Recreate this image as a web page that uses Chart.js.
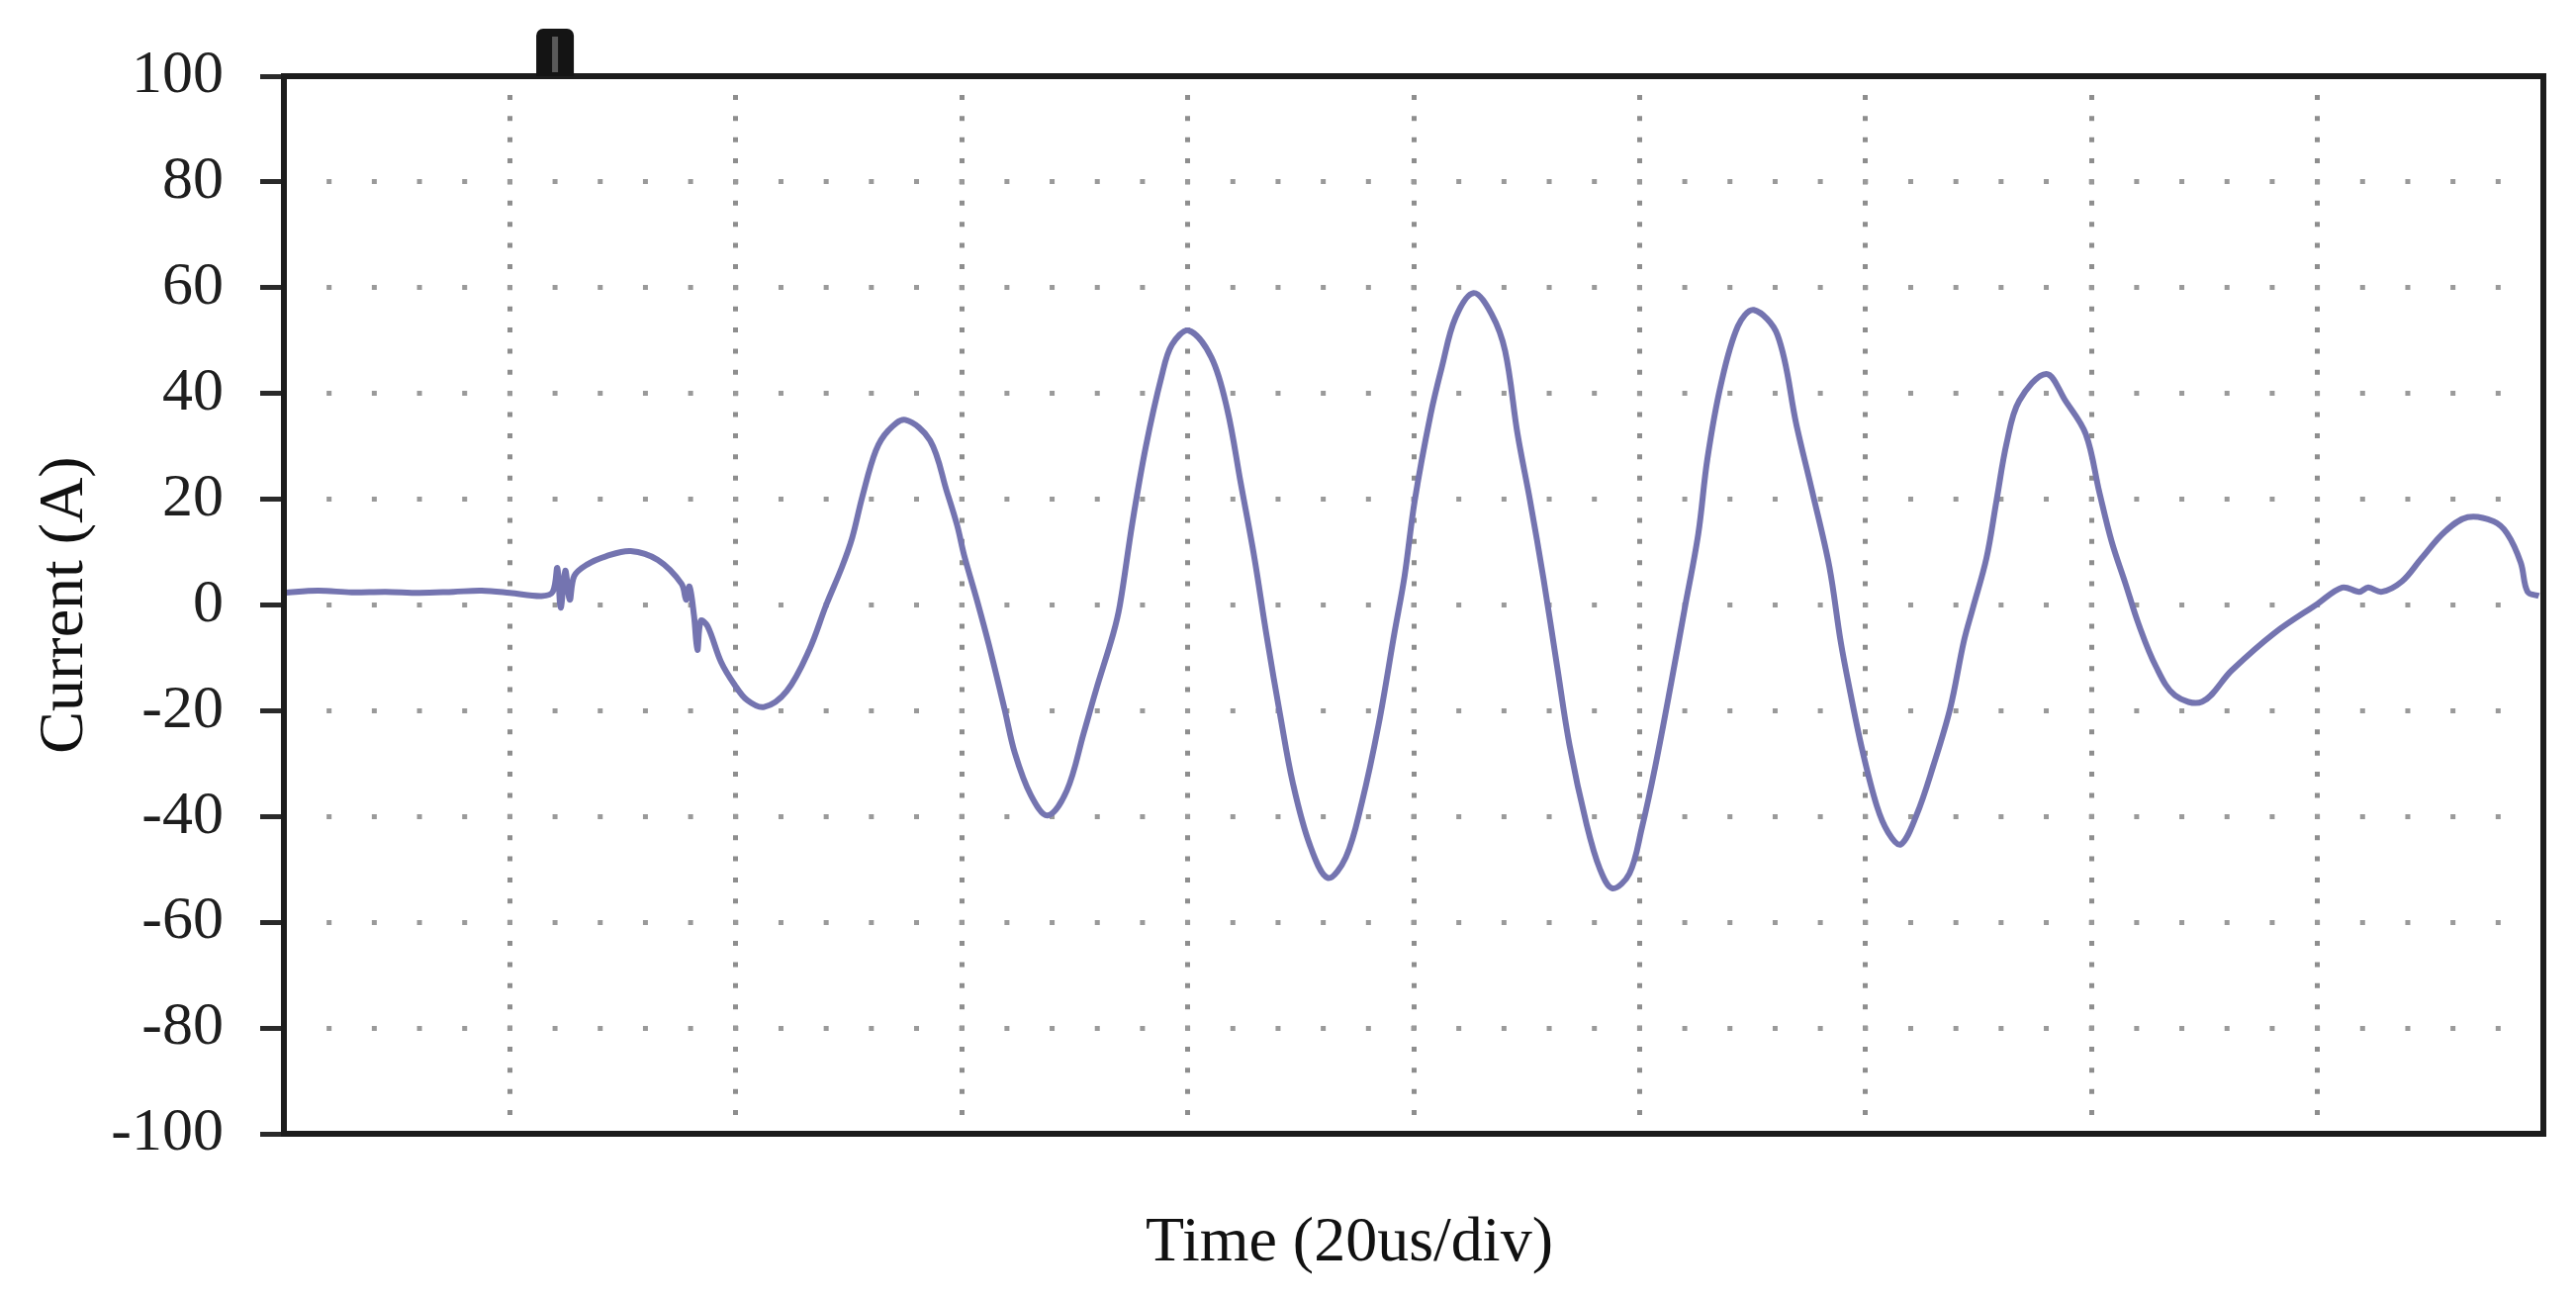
<!DOCTYPE html>
<html>
<head>
<meta charset="utf-8">
<script src="https://cdn.jsdelivr.net/npm/chart.js@4/dist/chart.umd.min.js"></script>
<style>
  html, body { margin: 0; padding: 0; background: #ffffff; }
  #wrap { width: 2604px; height: 1314px; }
</style>
</head>
<body>
<div id="wrap"><canvas id="c" width="2604" height="1314"></canvas></div>
<script>
// ---- data (time in microseconds, current in amperes) ----
const timeUs = [
  0, 3, 6, 9, 12, 15, 17.5, 20, 22.8, 23.8, 24.2, 24.5, 24.9, 25.3, 25.7, 26.8, 28.5, 30.7,
  33.1, 35.2, 35.6, 35.9, 36.3, 36.6, 36.9, 37.5, 38.7, 39.9, 41, 42.5, 44.5, 46.5, 48,
  49.4, 50.3, 51.2, 52.4, 53.5, 55, 57.2, 58.7, 59.6, 60.2, 61.4, 62.4, 63.8, 64.7, 66.1,
  67.6, 69.3, 70.8, 71.9, 73.4, 74, 75.1, 76.3, 77.7, 78.6, 80.1, 82.1, 83.5, 84.7, 85.9,
  87, 88.2, 89.3, 90.8, 92.4, 94, 95.4, 96.9, 98.3, 99.2, 100.1, 101.5, 102.5, 103.7, 105.3,
  106.9, 108.1, 109.2, 110.3, 111.5, 112.7, 113.8, 115.3, 116.5, 117.6, 119.1, 120.2, 121.4,
  122.8, 124, 125.2, 126, 127.2, 128.7, 130.1, 132.2, 133.9, 135.3, 136.8, 137.8, 138.6,
  139.7, 141, 142, 143.1, 144.5, 146, 147.5, 148.7, 149.5, 150.7, 151.6, 152.5, 153.6, 156,
  157.7, 159.5, 160.7, 161.8, 163, 164.2, 165.7, 167.4, 169.8, 172.4, 176.2, 180, 182.2,
  183.7, 184.5, 185.7, 187.5, 189.2, 191.3, 193.3, 195.6, 196.8, 198, 198.6, 199.6
];
const currentA = [
  2.3, 2.7, 2.4, 2.5, 2.3, 2.5, 2.7, 2.3, 1.7, 2.5, 7.0, -0.5, 6.5, 1.0, 5.5, 7.6, 9.2, 10.2,
  8.5, 4.0, 1.0, 3.5, -2.0, -8.5, -3.0, -4.0, -10.8, -15.1, -18, -19.3, -16.3, -8.5, 0,
  7.2, 12.7, 20.5, 29.2, 33, 35, 31.1, 21.3, 15, 9.5, 0.5, -7.5, -19.8, -28, -35.9,
  -39.8, -35.1, -24.2, -16, -5.5, 0, 15.5, 30, 43.3, 49.2, 51.9, 46.8, 37, 23, 9,
  -6, -21, -33.6, -45.3, -51.6, -47.7, -37.5, -22.6, -5.3, 5.5, 19.8, 36, 45, 54.3, 59,
  55, 48, 32.3, 19.8, 4.9, -11.6, -26.5, -41.4, -50, -53.6, -50.8, -42.2, -30.4,
  -14.7, -0.6, 13.5, 27.6, 41.7, 52.7, 55.8, 51.1, 33.9, 21.3, 7.2, -6.9, -16,
  -27.3, -38, -43, -45.3, -39.8, -30.4, -19.5, -6.9, -0.6, 8.8, 19.8, 30.7, 38.6, 43.7,
  38.6, 32.3, 21.3, 11.9, 4.1, -3.8, -11.6, -17.1, -18.3, -12.4, -5.3, 0.2, 3.3,
  2.5, 3.3, 2.5, 4.5, 8.8, 13.9, 16.6, 15.8, 13.5, 8, 2.5, 1.7
];
const yTickValues = [100, 80, 60, 40, 20, 0, -20, -40, -60, -80, -100];
const xRange = [0, 200];        // 10 divisions x 20 us
const xStep = 20;
const triggerTimeUs = 24;
const xAxisTitle = 'Time (20us/div)';
const yAxisTitle = 'Current (A)';

const points = timeUs.map((t, i) => ({ x: t, y: currentA[i] }));

const SERIF = '"Liberation Serif", "Times New Roman", serif';

const framePlugin = {
  id: 'framePlugin',
  afterDraw(chart) {
    const { ctx, chartArea: a, scales } = chart;
    ctx.save();
    // plot frame
    ctx.strokeStyle = '#1c1c1c';
    ctx.lineWidth = 6;
    ctx.strokeRect(a.left, a.top, a.right - a.left, a.bottom - a.top);
    // trigger marker
    const tx = scales.x.getPixelForValue(triggerTimeUs);
    const w = 38, h = 48;
    ctx.fillStyle = '#141414';
    ctx.beginPath();
    if (ctx.roundRect) {
      ctx.roundRect(tx - w / 2, a.top - h, w, h, [7, 7, 0, 0]);
    } else {
      ctx.rect(tx - w / 2, a.top - h, w, h);
    }
    ctx.fill();
    ctx.fillStyle = '#5a5a5a';
    ctx.fillRect(tx - 3, a.top - h + 8, 6, h - 12);
    // x axis title (placed as in the original, slightly left of centre)
    ctx.fillStyle = '#111111';
    ctx.font = '64px ' + SERIF;
    ctx.textAlign = 'center';
    ctx.textBaseline = 'middle';
    ctx.fillText(xAxisTitle, 1364, 1257);
    ctx.restore();
  }
};

new Chart(document.getElementById('c'), {
  type: 'line',
  data: {
    datasets: [{
      label: 'Current',
      data: points,
      borderColor: '#7474b0',
      borderWidth: 6,
      pointRadius: 0,
      fill: false,
      tension: 0.35
    }]
  },
  options: {
    responsive: false,
    animation: false,
    devicePixelRatio: 1,
    layout: { padding: { top: 77, right: 33, left: 0, bottom: 0 } },
    plugins: { legend: { display: false }, tooltip: { enabled: false } },
    scales: {
      x: {
        type: 'linear',
        min: xRange[0],
        max: xRange[1],
        ticks: { display: false, stepSize: xStep },
        border: { display: false, dash: [5, 16.38], dashOffset: 2.5 },
        grid: {
          color: '#8e8e8e',
          lineWidth: 5,
          drawTicks: false
        },
        afterFit(s) { s.height = 168; }
      },
      y: {
        min: -100,
        max: 100,
        afterBuildTicks(s) { s.ticks = yTickValues.map(v => ({ value: v })); },
        ticks: {
          stepSize: 20,
          color: '#1e1e1e',
          padding: 37,
          font: { family: SERIF, size: 62 }
        },
        border: { display: false, dash: [5, 40.68], dashOffset: 2.5 },
        grid: {
          color: '#9a9a9a',
          lineWidth: 5,
          drawTicks: true,
          tickLength: 24,
          tickWidth: 5,
          tickColor: '#2a2a2a',
          tickBorderDash: []
        },
        title: {
          display: true,
          text: yAxisTitle,
          color: '#111111',
          font: { family: SERIF, size: 64 },
          padding: { top: 28, bottom: 0 }
        },
        afterFit(s) { s.width = 287; }
      }
    }
  },
  plugins: [framePlugin]
});
</script>
</body>
</html>
